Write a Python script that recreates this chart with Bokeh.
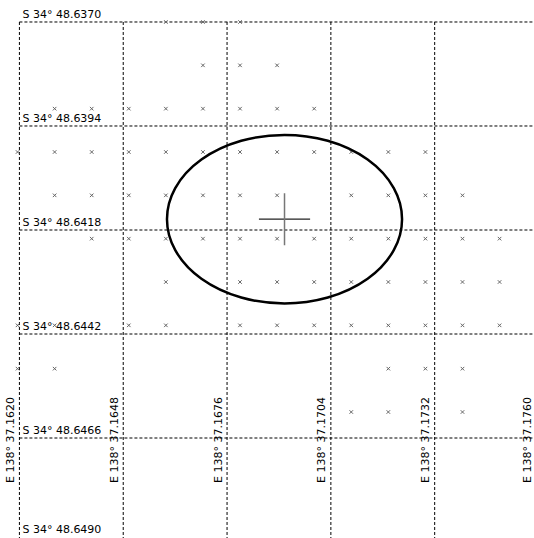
import math
from bokeh.plotting import figure
from bokeh.models import Range1d
from bokeh.core.properties import value
from bokeh.embed import file_html
from bokeh.resources import INLINE

# Grid of minutes (S 34° 48.xxxx latitude, E 138° 37.xxxx longitude)
grid_lat = [48.6370, 48.6394, 48.6418, 48.6442, 48.6466, 48.6490]
grid_lon = [37.1620, 37.1648, 37.1676, 37.1704, 37.1732, 37.1760]
lat_labels = ["S 34° 48.6370", "S 34° 48.6394", "S 34° 48.6418",
              "S 34° 48.6442", "S 34° 48.6466", "S 34° 48.6490"]
lon_labels = ["E 138° 37.1620", "E 138° 37.1648", "E 138° 37.1676",
              "E 138° 37.1704", "E 138° 37.1732", "E 138° 37.1760"]

# Individual GPS fixes, one list of longitudes per latitude row
fix_rows_lat = [48.6370, 48.6380, 48.6390, 48.6400, 48.6410,
                48.6420, 48.6430, 48.6440, 48.6450, 48.6460]
fix_rows_lon = [
    [37.16595, 37.16695, 37.16795],
    [37.16695, 37.16795, 37.16895],
    [37.16295, 37.16395, 37.16495, 37.16595, 37.16695, 37.16795, 37.16895, 37.16995],
    [37.16195, 37.16295, 37.16395, 37.16495, 37.16595, 37.16695, 37.16795,
     37.16895, 37.16995, 37.17095, 37.17195, 37.17295],
    [37.16295, 37.16395, 37.16495, 37.16595, 37.16695, 37.16795, 37.16895,
     37.17095, 37.17195, 37.17295, 37.17395],
    [37.16395, 37.16495, 37.16595, 37.16695, 37.16795, 37.16895, 37.16995,
     37.17095, 37.17195, 37.17295, 37.17395, 37.17495],
    [37.16595, 37.16795, 37.16895, 37.16995, 37.17095, 37.17195, 37.17295,
     37.17395, 37.17495],
    [37.16195, 37.16295, 37.16495, 37.16595, 37.16795, 37.16895, 37.16995,
     37.17095, 37.17195, 37.17295, 37.17395, 37.17495],
    [37.16195, 37.16295, 37.17195, 37.17295, 37.17395],
    [37.17095, 37.17195, 37.17395],
]

# Averaged position and its error ellipse (in minutes)
mean_lon = 37.16915
mean_lat = 48.64155
ellipse_w = 0.00634
ellipse_h = 0.00389
cross_half_lon = 0.00069
cross_half_lat = 0.00060

W, H = 534, 538
x_lo, x_hi = 37.16149, 37.175892
y_top, y_bot = 48.636504, 48.648919

p = figure(width=W, height=H, output_backend="svg", toolbar_location=None,
           x_range=Range1d(x_lo, x_hi), y_range=Range1d(y_bot, y_top),
           min_border=0, outline_line_color=None)
p.axis.visible = False
p.grid.visible = False
p.background_fill_color = "white"
p.border_fill_color = "white"

# dashed graticule, starting at the first line and running off the page
far_lon = x_hi + 0.001
far_lat = y_bot + 0.001
p.segment(x0=[grid_lon[0]] * len(grid_lat), y0=grid_lat,
          x1=[far_lon] * len(grid_lat), y1=grid_lat,
          line_color="black", line_width=1, line_dash="3 2")
p.segment(x0=grid_lon, y0=[grid_lat[0]] * len(grid_lon),
          x1=grid_lon, y1=[far_lat] * len(grid_lon),
          line_color="black", line_width=1, line_dash="3 2")

# fixes
fx, fy = [], []
for lat, lons in zip(fix_rows_lat, fix_rows_lon):
    for lon in lons:
        fx.append(lon)
        fy.append(lat)
p.scatter(fx, fy, marker="x", size=5, line_color="#666666", line_width=1)

font = value("DejaVu Sans")
# latitude labels sit just above their line; a line past the page bottom
# keeps its label pulled up inside the page
lat_dy = [-7.5 if lat < y_bot else -13.0 for lat in grid_lat]
p.text(x=[grid_lon[0]] * len(grid_lat), y=grid_lat, text=lat_labels,
       text_font=font, text_font_size="11px", text_color="black",
       text_align="left", text_baseline="middle", x_offset=3, y_offset=lat_dy)
# longitude labels, rotated, left of each vertical line (kept on the page)
lon_dx = [-9 if lon < x_hi else -11 for lon in grid_lon]
p.text(x=grid_lon, y=[grid_lat[4]] * len(grid_lon), text=lon_labels,
       angle=math.pi / 2, text_font=font, text_font_size="11px",
       text_color="black", text_align="left", text_baseline="middle",
       x_offset=lon_dx, y_offset=45)

# error ellipse and mean-position cross
p.ellipse(x=[mean_lon], y=[mean_lat], width=[ellipse_w], height=[ellipse_h],
          fill_color=None, line_color="black", line_width=2.5)
p.segment(x0=[mean_lon - cross_half_lon], y0=[mean_lat],
          x1=[mean_lon + cross_half_lon], y1=[mean_lat],
          line_color="#222222", line_width=1.4)
p.segment(x0=[mean_lon], y0=[mean_lat - cross_half_lat],
          x1=[mean_lon], y1=[mean_lat + cross_half_lat],
          line_color="#777777", line_width=1.5)

open("out.html", "w").write(file_html(p, INLINE))
